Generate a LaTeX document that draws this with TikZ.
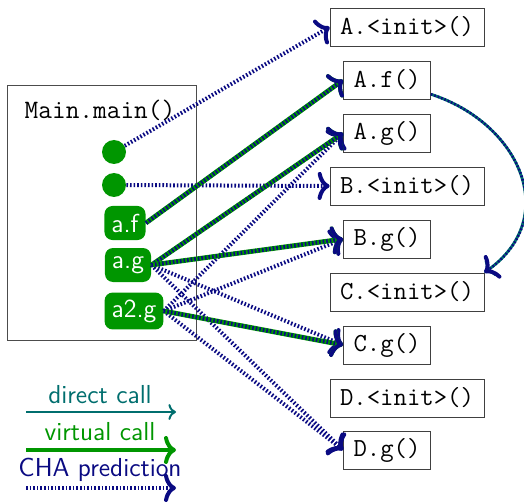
\documentclass[tikz,border=0pt]{standalone}
\usepackage{tikz}
\usetikzlibrary{arrows.meta}

\definecolor{chablue}{RGB}{10,10,130}
\definecolor{virtgreen}{RGB}{0,150,0}
\definecolor{directteal}{RGB}{0,110,110}

\begin{document}
\begin{tikzpicture}[
  x=0.5pt, y=-0.5pt,
  meth/.style={draw=black!75,fill=white,font=\fontsize{13}{15}\selectfont\ttfamily,minimum height=19pt,inner xsep=5pt},
  site/.style={rounded corners=4pt,fill=virtgreen,text=white,font=\fontsize{13}{15}\selectfont\sffamily,inner sep=3.5pt,minimum height=17pt},
  callsite/.style={circle,fill=virtgreen,minimum size=12pt,inner sep=0pt},
  legtext/.style={font=\fontsize{13}{15}\selectfont\sffamily},
  virt/.style={-{To[length=6pt,width=14pt,line width=2pt]},virtgreen,line width=2.4pt},
  cha/.style={-{To[length=6pt,width=14pt,line width=2pt]},chablue,line width=2pt,dash pattern=on 0.8pt off 1pt},
  direct/.style={->,directteal,line width=1pt}
]
  \useasboundingbox (0,0) rectangle (524,502);

  % caller
  \node[draw=black!70,minimum width=94.5pt,minimum height=127.5pt,anchor=north west,inner sep=0pt] (main) at (7,85) {};
  \node[font=\fontsize{13.3}{15}\selectfont\ttfamily] (mainlab) at (100,110) {Main.main()};
  \node[callsite] (c1) at (114,152) {};
  \node[callsite] (c2) at (114,185) {};
  \node[site] (af) at (125,223) {a.f};
  \node[site] (ag) at (128,265) {a.g};
  \node[site] (a2g) at (134,311) {a2.g};

  % callees
  \node[meth] (Ainit) at (407,27) {A.<init>()};
  \node[meth] (Af) at (387,80) {A.f()};
  \node[meth] (Ag) at (387,133) {A.g()};
  \node[meth] (Binit) at (407,186) {B.<init>()};
  \node[meth] (Bg) at (387,239) {B.g()};
  \node[meth] (Cinit) at (407,292) {C.<init>()};
  \node[meth] (Cg) at (387,345) {C.g()};
  \node[meth] (Dinit) at (407,398) {D.<init>()};
  \node[meth] (Dg) at (387,450) {D.g()};

  % CHA only
  \draw[cha] (c1) -- (Ainit.west);
  \draw[cha] (c2) -- (Binit.west);
  \draw[cha] (ag.east) -- (Cg.west);
  \draw[cha] (ag.east) -- (Dg.west);
  \draw[cha] (a2g.east) -- (Ag.west);
  \draw[cha] (a2g.east) -- (Bg.west);
  \draw[cha] (a2g.east) -- (Dg.west);

  % virtual calls, CHA on top
  \draw[virt] (af.east) -- (Af.west);
  \draw[cha] (af.east) -- (Af.west);
  \draw[virt] (ag.east) -- (Ag.west);
  \draw[cha] (ag.east) -- (Ag.west);
  \draw[virt] (ag.east) -- (Bg.west);
  \draw[cha] (ag.east) -- (Bg.west);
  \draw[virt] (a2g.east) -- (Cg.west);
  \draw[cha] (a2g.east) -- (Cg.west);

  % direct call, CHA on top
  \draw[direct,line width=1.4pt] (Af) to[out=-18,in=35,looseness=1.3] (Cinit.north east);
  \draw[cha,line width=1.3pt] (Af) to[out=-18,in=35,looseness=1.3] (Cinit.north east);

  % legend
  \node[legtext,text=directteal] (ldirect) at (100,395) {direct call};
  \coordinate (ld1) at (26,412);
  \coordinate (ld2) at (176,412);
  \draw[direct] (ld1) -- (ld2);
  \node[legtext,text=virtgreen] (lvirt) at (100,432) {virtual call};
  \coordinate (lv1) at (26,450);
  \coordinate (lv2) at (176,450);
  \draw[virt,line width=2pt] (lv1) -- (lv2);
  \node[legtext,text=chablue] (lcha) at (100,470) {CHA prediction};
  \coordinate (lc1) at (26,488);
  \coordinate (lc2) at (176,488);
  \draw[cha] (lc1) -- (lc2);
\end{tikzpicture}
\end{document}
